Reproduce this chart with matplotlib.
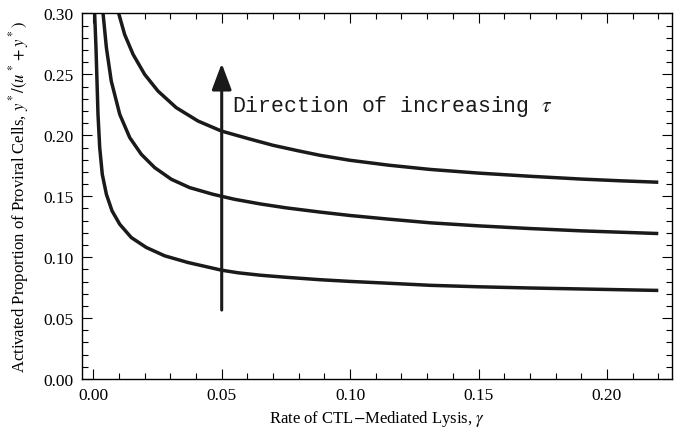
import matplotlib
matplotlib.use("Agg")
import matplotlib.pyplot as plt
from matplotlib.ticker import MultipleLocator

plt.rcParams['font.family'] = ['Liberation Serif', 'DejaVu Serif']
plt.rcParams['mathtext.fontset'] = 'stix'

# values (gamma, proportion)
gamma_low = [0.00053, 0.00105, 0.00144, 0.00183, 0.0025, 0.0035, 0.0051, 0.0073, 0.0103,
             0.0148, 0.0206, 0.0278, 0.0369, 0.0500, 0.0563, 0.0650, 0.0750, 0.0883,
             0.1000, 0.1150, 0.1312, 0.1500, 0.1700, 0.1900, 0.2050, 0.2200]
prop_low = [0.300, 0.2719, 0.2445, 0.2172, 0.1899, 0.168, 0.1516, 0.138, 0.127,
            0.1161, 0.108, 0.1011, 0.0956, 0.0893, 0.0872, 0.0852, 0.0835, 0.0815,
            0.0801, 0.0786, 0.0769, 0.0757, 0.0747, 0.0739, 0.0733, 0.0727]

gamma_mid = [0.0038, 0.0051, 0.0070, 0.0103, 0.0142, 0.0187, 0.0239, 0.0304, 0.0375,
             0.0466, 0.0550, 0.0650, 0.0750, 0.0883, 0.1000, 0.1150, 0.1312, 0.1500,
             0.1700, 0.1900, 0.2050, 0.2200]
prop_mid = [0.300, 0.2719, 0.2445, 0.2172, 0.1981, 0.1844, 0.1735, 0.1639, 0.1571,
            0.1516, 0.1475, 0.1437, 0.1405, 0.137, 0.1342, 0.1312, 0.1282, 0.1257,
            0.1235, 0.1216, 0.1205, 0.1194]

gamma_high = [0.0099, 0.0122, 0.0155, 0.0200, 0.0252, 0.0323, 0.0408, 0.0499, 0.0600,
              0.0700, 0.0800, 0.0883, 0.1000, 0.1150, 0.1312, 0.1500, 0.1700, 0.1900,
              0.2050, 0.2200]
prop_high = [0.300, 0.2828, 0.2664, 0.250, 0.2363, 0.2227, 0.2117, 0.2035, 0.1975,
             0.1918, 0.1872, 0.1836, 0.1795, 0.1755, 0.172, 0.169, 0.1664, 0.1641,
             0.1627, 0.1615]

arrow_x = 0.05
arrow_from, arrow_to = 0.0566, 0.259

fig = plt.figure(figsize=(6.79, 4.31), dpi=100)
ax = fig.add_axes([0.1203, 0.1183, 0.8689, 0.8481])

for g, p in [(gamma_low, prop_low), (gamma_mid, prop_mid), (gamma_high, prop_high)]:
    ax.plot(g, p, color='#1a1a1a', lw=2.5, solid_capstyle='butt', solid_joinstyle='round')

ax.annotate('', xy=(arrow_x, arrow_to), xytext=(arrow_x, arrow_from),
            arrowprops=dict(arrowstyle='-|>,head_length=0.8,head_width=0.3',
                            mutation_scale=20, lw=2.2, color='#1a1a1a',
                            shrinkA=0, shrinkB=0))
ax.text(0.054, 0.2246, r'Direction of increasing $\tau$', family='Liberation Mono',
        fontsize=15.5, va='center', ha='left', color='#1a1a1a')

ax.set_xlim(-0.00452, 0.2252)
ax.set_ylim(0, 0.30)
ax.xaxis.set_major_locator(MultipleLocator(0.05))
ax.xaxis.set_minor_locator(MultipleLocator(0.01))
ax.yaxis.set_major_locator(MultipleLocator(0.05))
ax.yaxis.set_minor_locator(MultipleLocator(0.01))
ax.xaxis.set_major_formatter(plt.FormatStrFormatter('%.2f'))
ax.yaxis.set_major_formatter(plt.FormatStrFormatter('%.2f'))
ax.tick_params(which='both', direction='in', top=True, right=True, width=0.8,
               labelsize=12.5)
ax.tick_params(axis='x', which='both', pad=6)
ax.tick_params(axis='y', which='both', pad=6)
ax.tick_params(which='major', length=7)
ax.tick_params(which='minor', length=4)
for s in ax.spines.values():
    s.set_linewidth(1.0)

ax.set_xlabel(r'Rate of CTL$-$Mediated Lysis, $\gamma$', fontsize=12, labelpad=3)
ax.set_ylabel(r'Activated Proportion of Proviral Cells, $y^*/(u^*+y^*)$',
              fontsize=12, labelpad=9)

fig.savefig('out.png', dpi=100)
